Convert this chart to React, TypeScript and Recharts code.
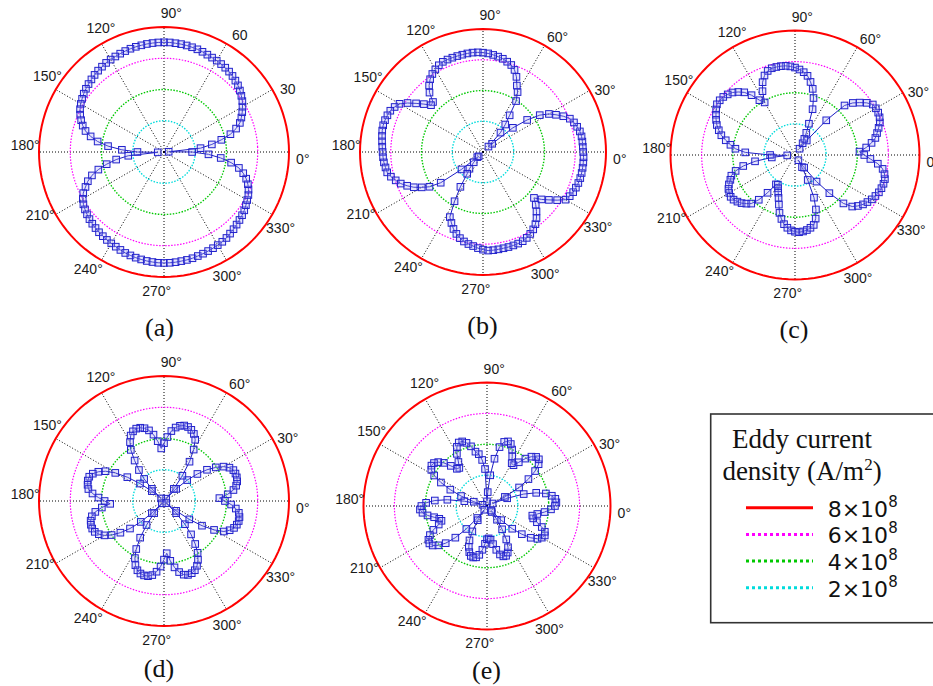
import React from 'react';
import { RadarChart, Radar, PolarGrid, PolarAngleAxis, PolarRadiusAxis } from 'recharts';

// ---------- categories (degrees) ----------
const ANGLES = [
  0, 3, 6, 9, 12, 15, 18, 21, 24, 27, 30, 33, 36, 39, 42, 45, 48, 51, 54, 57, 60, 63, 66, 69, 72, 75, 78, 81, 84, 87,
  90, 93, 96, 99, 102, 105, 108, 111, 114, 117, 120, 123, 126, 129, 132, 135, 138, 141, 144, 147, 150, 153, 156, 159, 162, 165, 168, 171, 174, 177,
  180, 183, 186, 189, 192, 195, 198, 201, 204, 207, 210, 213, 216, 219, 222, 225, 228, 231, 234, 237, 240, 243, 246, 249, 252, 255, 258, 261, 264, 267,
  270, 273, 276, 279, 282, 285, 288, 291, 294, 297, 300, 303, 306, 309, 312, 315, 318, 321, 324, 327, 330, 333, 336, 339, 342, 345, 348, 351, 354, 357,
];

// grid spokes and ring levels (x10^8 A/m^2)
const SPOKES = [0, 30, 60, 90, 120, 150, 180, 210, 240, 270, 300, 330];
const RING_LEVELS = [8, 6, 4, 2];
const RING_LABELS = ['8', '6', '4', '2'];

// tick labels
const LABELS_A = ['0°', '30', '60', '90°', '120°', '150°', '180°', '210°', '240°', '270°', '300°', '330°'];
const LABELS_STD = ['0°', '30°', '60°', '90°', '120°', '150°', '180°', '210°', '240°', '270°', '300°', '330°'];

// ---------- series values (x10^8 A/m^2), one per category ----------
const A_VALUES = [
  0.3, 2.35, 3.1, 3.75, 4.4, 4.85, 5.2, 5.42, 5.62, 5.8, 5.98, 6.12, 6.25, 6.37, 6.46, 6.55, 6.62, 6.67, 6.71, 6.75, 6.78, 6.82, 6.87, 6.91, 6.94, 6.97, 6.99, 7.0, 7.02, 7.02,
  7.02, 7.01, 7.0, 6.98, 6.97, 6.95, 6.92, 6.89, 6.86, 6.83, 6.8, 6.75, 6.7, 6.64, 6.57, 6.5, 6.43, 6.35, 6.25, 6.15, 6.03, 5.87, 5.68, 5.47, 5.2, 4.8, 4.3, 3.6, 2.7, 1.7,
  0.4, 2.3, 3.1, 3.75, 4.35, 4.85, 5.22, 5.5, 5.8, 6.0, 6.15, 6.25, 6.34, 6.42, 6.49, 6.55, 6.61, 6.66, 6.71, 6.75, 6.8, 6.86, 6.92, 6.96, 7.0, 7.03, 7.06, 7.08, 7.1, 7.1,
  7.1, 7.09, 7.07, 7.06, 7.04, 7.0, 6.97, 6.94, 6.91, 6.88, 6.85, 6.8, 6.72, 6.65, 6.57, 6.5, 6.43, 6.35, 6.25, 6.15, 6.06, 5.92, 5.75, 5.53, 5.25, 4.9, 4.35, 3.65, 2.85, 1.8,
];
const B_VALUES = [
  6.5, 6.5, 6.49, 6.44, 6.34, 6.22, 6.05, 5.72, 5.33, 4.95, 4.4, 3.55, 2.5, 0.8, 0.5, 1.7, 2.3, 2.95, 3.95, 4.5, 4.85, 5.35, 5.72, 5.95, 6.08, 6.2, 6.28, 6.35, 6.42, 6.46,
  6.49, 6.5, 6.49, 6.47, 6.46, 6.45, 6.44, 6.42, 6.33, 6.2, 6.05, 5.85, 5.57, 5.2, 4.6, 4.55, 4.95, 5.38, 5.85, 6.27, 6.45, 6.6, 6.66, 6.7, 6.72, 6.7, 6.65, 6.6, 6.56, 6.53,
  6.51, 6.48, 6.42, 6.37, 6.2, 5.97, 5.73, 5.4, 5.05, 4.6, 4.15, 3.4, 1.8, 0.5, 0.4, 0.9, 1.4, 1.75, 2.7, 3.7, 4.75, 5.05, 5.36, 5.6, 5.8, 5.95, 6.06, 6.15, 6.26, 6.35,
  6.42, 6.42, 6.41, 6.4, 6.4, 6.39, 6.38, 6.35, 6.27, 6.15, 6.0, 5.8, 5.53, 5.2, 4.85, 4.46, 4.9, 5.3, 5.75, 6.2, 6.33, 6.42, 6.47, 6.52, 6.55, 6.56, 6.56, 6.56, 6.55, 6.52,
];
const C_VALUES = [
  4.15, 4.6, 4.98, 5.28, 5.46, 5.65, 5.84, 5.95, 6.0, 6.0, 5.96, 5.7, 5.35, 5.0, 4.5, 3.0, 1.2, 0.5, 0.9, 1.2, 1.6, 2.2, 3.15, 3.85, 4.4, 4.8, 5.15, 5.35, 5.5, 5.62,
  5.7, 5.76, 5.78, 5.78, 5.77, 5.68, 5.47, 5.12, 4.6, 3.9, 4.2, 4.75, 5.18, 5.45, 5.68, 5.82, 5.93, 5.98, 5.98, 5.85, 5.7, 5.55, 5.38, 5.15, 4.9, 4.55, 4.2, 3.85, 3.2, 1.6,
  0.5, 1.5, 2.6, 3.4, 3.95, 4.3, 4.45, 4.65, 4.8, 4.88, 4.93, 4.88, 4.76, 4.62, 4.42, 4.2, 3.7, 3.0, 2.25, 2.2, 2.4, 2.65, 2.95, 3.35, 3.85, 4.2, 4.5, 4.7, 4.85, 4.93,
  4.97, 4.94, 4.88, 4.78, 4.65, 4.3, 3.75, 3.0, 1.8, 0.9, 0.4, 1.0, 2.2, 3.3, 4.4, 4.95, 5.2, 5.4, 5.55, 5.7, 5.8, 5.9, 5.95, 5.98, 5.98, 5.88, 5.7, 5.35, 4.85, 4.45,
];
const D_VALUES = [
  3.55, 4.1, 4.5, 4.72, 4.85, 4.9, 4.9, 4.86, 4.7, 4.4, 3.95, 3.4, 2.75, 2.0, 1.1, 0.2, 1.0, 2.0, 3.0, 3.8, 4.4, 4.7, 4.88, 4.98, 5.0, 4.92, 4.76, 4.5, 4.1, 3.7,
  3.37, 3.85, 4.3, 4.62, 4.82, 4.93, 4.96, 4.88, 4.7, 4.35, 3.9, 3.2, 2.55, 1.9, 1.1, 0.25, 1.0, 1.9, 2.8, 3.6, 4.2, 4.6, 4.88, 5.03, 5.05, 5.0, 4.9, 4.6, 4.2, 3.8,
  3.45, 4.0, 4.45, 4.72, 4.86, 4.92, 4.92, 4.85, 4.68, 4.4, 4.0, 3.45, 2.8, 2.0, 1.1, 0.2, 1.0, 1.9, 2.8, 3.55, 4.1, 4.5, 4.75, 4.88, 4.93, 4.92, 4.8, 4.55, 4.2, 3.75,
  3.35, 3.85, 4.3, 4.65, 4.88, 4.97, 4.95, 4.85, 4.65, 4.35, 3.95, 3.4, 2.75, 2.0, 1.1, 0.2, 1.0, 2.0, 2.9, 3.7, 4.3, 4.6, 4.8, 4.9, 4.95, 4.94, 4.85, 4.62, 4.3, 3.9,
];
const E_VALUES = [
  4.5, 4.45, 4.25, 3.9, 3.3, 2.5, 1.4, 0.4, 1.3, 2.4, 3.2, 3.85, 4.3, 4.52, 4.5, 4.3, 3.95, 3.5, 3.15, 3.2, 3.6, 4.0, 4.3, 4.4, 4.3, 3.9, 3.1, 2.0, 0.9, 0.3,
  2.4, 3.0, 3.4, 3.6, 4.0, 4.3, 4.48, 4.5, 4.3, 3.9, 3.4, 3.05, 3.1, 3.5, 3.95, 4.25, 4.42, 4.45, 4.3, 3.95, 3.35, 2.6, 1.8, 0.9, 0.3, 1.5, 2.6, 3.4, 3.95, 4.25,
  4.35, 4.2, 3.9, 3.5, 3.2, 3.1, 3.35, 3.8, 4.15, 4.38, 4.45, 4.35, 4.05, 3.6, 2.9, 2.0, 1.0, 0.3, 1.1, 1.9, 2.5, 2.9, 3.2, 3.4, 3.45, 3.4, 3.2, 2.85, 2.45, 2.15,
  2.1, 2.2, 2.5, 2.9, 3.25, 3.43, 3.45, 3.3, 3.0, 2.5, 1.8, 1.1, 0.5, 0.4, 1.3, 2.2, 2.9, 3.5, 3.9, 4.1, 4.2, 4.1, 3.8, 3.4, 3.1, 3.0, 3.3, 3.75, 4.15, 4.4,
];

// ---------- styles ----------
const RING_STYLES = [
  { stroke: '#ff0000', width: 2, dash: undefined as string | undefined },
  { stroke: '#ff00ff', width: 1.2, dash: '1.5 1.5' },
  { stroke: '#00c800', width: 1.4, dash: '1.5 1.5' },
  { stroke: '#00dcdc', width: 1.4, dash: '1.5 1.5' },
];

const PANELS = [
  { id: 'a', values: A_VALUES, labels: LABELS_A, cx: 163.5, cy: 152, R: 125, caption: '(a)', capX: 159.5, capY: 335.5 },
  { id: 'b', values: B_VALUES, labels: LABELS_STD, cx: 483.4, cy: 151.5, R: 123, caption: '(b)', capX: 482.5, capY: 334 },
  { id: 'c', values: C_VALUES, labels: LABELS_STD, cx: 795, cy: 155.3, R: 124.5, caption: '(c)', capX: 794, capY: 338 },
  { id: 'd', values: D_VALUES, labels: LABELS_STD, cx: 164, cy: 501, R: 125, caption: '(d)', capX: 159, capY: 677 },
  { id: 'e', values: E_VALUES, labels: LABELS_STD, cx: 487, cy: 505.5, R: 123.5, caption: '(e)', capX: 486.5, capY: 679 },
];

const SIZE = 330;

function makeAngleTick(labels: string[]) {
  return function AngleTick(props: any) {
    const { x, y, payload } = props;
    const v = Number(payload?.value);
    if (v % 30 !== 0) return <g />;
    return (
      <text
        x={x}
        y={y}
        textAnchor="middle"
        dominantBaseline="central"
        fontFamily="'Liberation Sans', Arial, sans-serif"
        fontSize={14}
        fill="#1a1a1a"
      >
        {labels[v / 30]}
      </text>
    );
  };
}

const SquareDot = (p: any) => {
  if (p == null || p.cx == null || p.cy == null) return <g />;
  return (
    <rect
      x={p.cx - 3.3}
      y={p.cy - 3.3}
      width={6.6}
      height={6.6}
      fill="rgba(170,170,245,0.3)"
      stroke="#2222cc"
      strokeWidth={1}
    />
  );
};

function Panel({ panel }: { panel: (typeof PANELS)[number] }) {
  const rows = ANGLES.map((a, i) => {
    const row: Record<string, number> = { angle: a, v: panel.values[i] };
    RING_LEVELS.forEach((lv, k) => {
      row['r' + RING_LABELS[k]] = lv;
    });
    return row;
  });
  return (
    <div style={{ position: 'absolute', left: panel.cx - SIZE / 2, top: panel.cy - SIZE / 2, width: SIZE, height: SIZE }}>
      <RadarChart
        width={SIZE}
        height={SIZE}
        cx={SIZE / 2}
        cy={SIZE / 2}
        outerRadius={panel.R}
        startAngle={0}
        endAngle={360}
        data={rows}
        margin={{ top: 0, right: 0, bottom: 0, left: 0 }}
      >
        <PolarGrid
          gridType="circle"
          polarAngles={SPOKES}
          polarRadius={[]}
          stroke="#000000"
          strokeWidth={1}
          strokeDasharray="1 2"
        />
        <PolarAngleAxis
          dataKey="angle"
          tick={makeAngleTick(panel.labels)}
          tickLine={false}
          axisLine={false}
          tickSize={Math.round(panel.R * 0.11)}
        />
        <PolarRadiusAxis domain={[0, 8]} tick={false} axisLine={false} />
        {RING_LEVELS.slice().reverse().map((lv, idx) => {
          const k = RING_LEVELS.length - 1 - idx;
          const st = RING_STYLES[k];
          return (
            <Radar
              key={'ring' + lv}
              dataKey={'r' + RING_LABELS[k]}
              stroke={st.stroke}
              strokeWidth={st.width}
              strokeDasharray={st.dash}
              fill="none"
              fillOpacity={0}
              dot={false}
              activeDot={false}
              isAnimationActive={false}
            />
          );
        })}
        <Radar
          dataKey="v"
          stroke="#1c1cc4"
          strokeWidth={1}
          fill="none"
          fillOpacity={0}
          dot={SquareDot}
          activeDot={false}
          isAnimationActive={false}
        />
      </RadarChart>
    </div>
  );
}

function Overlay() {
  const legendRows = RING_LABELS.map((lab, k) => ({ lab, st: RING_STYLES[k], k }));
  return (
    <svg width={933} height={686} style={{ position: 'absolute', left: 0, top: 0, pointerEvents: 'none' }}>
      {PANELS.map((p) => (
        <text
          key={p.id}
          x={p.capX}
          y={p.capY}
          textAnchor="middle"
          fontFamily="'Liberation Serif', 'Times New Roman', serif"
          fontSize={26}
          fill="#111"
        >
          {p.caption}
        </text>
      ))}
      <rect x={710.7} y={414} width={240} height={208.7} fill="none" stroke="#333" strokeWidth={1.6} />
      <text x={802} y={448} textAnchor="middle" fontFamily="'Liberation Serif', 'Times New Roman', serif" fontSize={27} fill="#111">
        Eddy current
      </text>
      <text x={802} y={480} textAnchor="middle" fontFamily="'Liberation Serif', 'Times New Roman', serif" fontSize={27} fill="#111">
        density (A/m<tspan dy={-10} fontSize={17}>2</tspan><tspan dy={10}>)</tspan>
      </text>
      {legendRows.map(({ lab, st, k }) => {
        const base = 516.7 + k * 26.7;
        return (
          <g key={lab}>
            <line
              x1={746}
              x2={813}
              y1={base - 9}
              y2={base - 9}
              stroke={st.stroke}
              strokeWidth={3}
              strokeDasharray={st.dash ? '3 3' : undefined}
            />
            <text x={827.7} y={base} fontFamily="'DejaVu Sans', sans-serif" fontSize={22} fill="#111">
              {lab}×10<tspan dy={-10} fontSize={15}>8</tspan>
            </text>
          </g>
        );
      })}
    </svg>
  );
}

export default function App() {
  return (
    <div style={{ position: 'fixed', left: 0, top: 0, width: 933, height: 686, overflow: 'hidden', background: '#ffffff' }}>
      {PANELS.map((p) => (
        <Panel key={p.id} panel={p} />
      ))}
      <Overlay />
    </div>
  );
}
